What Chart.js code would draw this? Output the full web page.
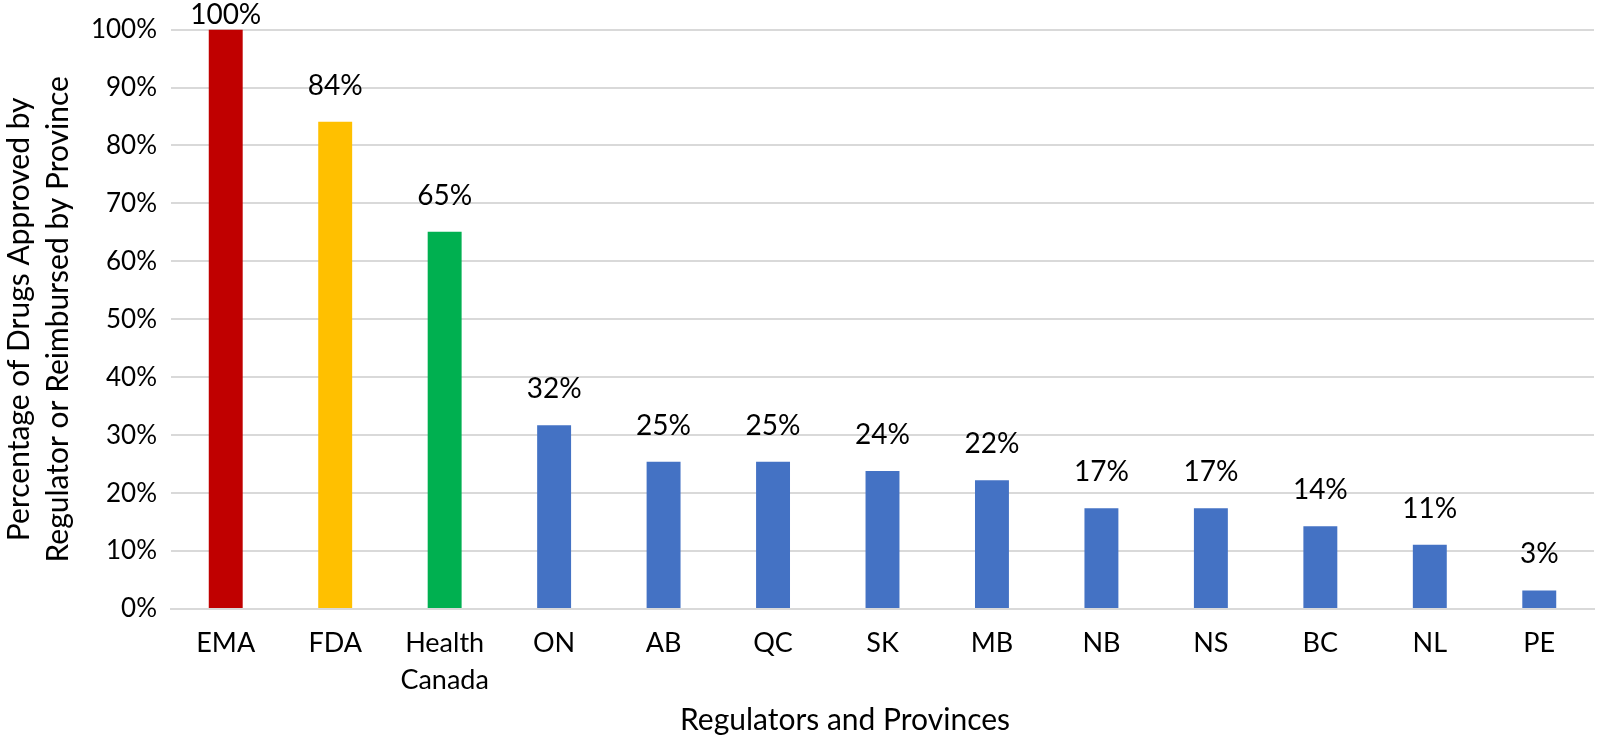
<!DOCTYPE html>
<html>
<head>
<meta charset="utf-8">
<script src="https://cdn.jsdelivr.net/npm/chart.js@4"></script>
<style>
    html, body { margin: 0; padding: 0; background: #fff; }
    #wrap { width: 1600px; height: 736px; }
</style>
</head>
<body>
<div id="wrap"><canvas id="myChart" width="1600" height="736"></canvas></div>
<script>
const categories = ["EMA", "FDA", ["Health", "Canada"], "ON", "AB", "QC", "SK", "MB", "NB", "NS", "BC", "NL", "PE"];
const percentages = [100, 84.1, 65.1, 31.7, 25.4, 25.4, 23.8, 22.2, 17.4, 17.4, 14.3, 11.1, 3.2];
const barColors = ["#C00000", "#FFC000", "#00B050", "#4472C4", "#4472C4", "#4472C4", "#4472C4",
    "#4472C4", "#4472C4", "#4472C4", "#4472C4", "#4472C4", "#4472C4"];
const yTicks = [0, 10, 20, 30, 40, 50, 60, 70, 80, 90, 100];
const xTitle = "Regulators and Provinces";
const yTitle = ["Percentage of Drugs Approved by", "Regulator or Reimbursed by Province"];

const fontFamily = "Lato, Carlito, Calibri, sans-serif";

// value labels above each bar + x axis title (Excel puts it a bit left of centre)
const barLabels = {
    id: "barLabels",
    afterDatasetsDraw(chart) {
        const ctx = chart.ctx;
        const meta = chart.getDatasetMeta(0);
        ctx.save();
        ctx.font = "28px " + fontFamily;
        ctx.fillStyle = "#000";
        ctx.textAlign = "center";
        ctx.textBaseline = "alphabetic";
        meta.data.forEach((bar, i) => {
            const y = Math.max(bar.y - 27, 24);
            ctx.fillText(Math.round(percentages[i]) + "%", bar.x, y);
        });

        ctx.font = "30px " + fontFamily;
        ctx.fillText(xTitle, 845, 730);
        ctx.restore();
    },
};

const ctx = document.getElementById("myChart");

new Chart(ctx, {
    type: "bar",
    data: {
        labels: categories,
        datasets: [
            {
                data: percentages,
                backgroundColor: barColors,
                categoryPercentage: 1,
                barPercentage: 0.31,
            },
        ],
    },
    options: {
        responsive: false,
        animation: false,
        layout: {
            padding: { top: 28, right: 6, left: 0, bottom: 0 },
        },
        plugins: {
            legend: { display: false },
            tooltip: { enabled: false },
        },
        scales: {
            x: {
                grid: { display: false },
                border: { display: true, color: "#d9d9d9", width: 2 },
                ticks: {
                    color: "#000",
                    font: { family: fontFamily, size: 27, lineHeight: 1.37 },
                    padding: 8,
                    maxRotation: 0,
                    autoSkip: false,
                },
                afterFit: (scale) => {
                    scale.height = 127;
                },
            },
            y: {
                min: 0,
                max: 100,
                afterBuildTicks: (scale) => {
                    scale.ticks = yTicks.map((v) => ({ value: v }));
                },
                grid: {
                    color: "#d9d9d9",
                    lineWidth: 2,
                    drawTicks: false,
                },
                border: { display: false },
                ticks: {
                    color: "#000",
                    font: { family: fontFamily, size: 26 },
                    padding: 14,
                    callback: (v) => v + "%",
                },
                title: {
                    display: true,
                    text: yTitle,
                    color: "#000",
                    font: { family: fontFamily, size: 30, lineHeight: 1.3 },
                    padding: { top: 0, bottom: 4 },
                },
                afterFit: (scale) => {
                    scale.width = 171;
                },
            },
        },
    },
    plugins: [barLabels],
});
</script>
</body>
</html>
